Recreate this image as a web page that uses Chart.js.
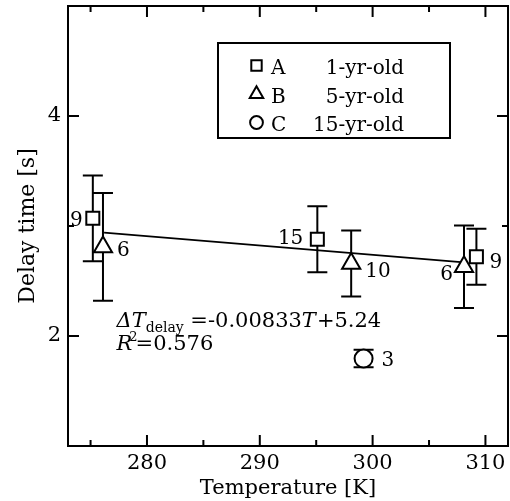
<!DOCTYPE html>
<html>
<head>
<meta charset="utf-8">
<script src="https://cdn.jsdelivr.net/npm/chart.js@4.4.1/dist/chart.umd.min.js"></script>
<style>
  html, body { margin: 0; padding: 0; background: #fff; }
  #wrap { width: 510px; height: 501px; }
</style>
</head>
<body>
<div id="wrap"><canvas id="chart" width="510" height="501"></canvas></div>
<script>
// A: 1-yr-old
const tempA = [275.2, 295.1, 309.2];
const delayA = [3.07, 2.88, 2.72];
const errA = [0.39, 0.30, 0.255];
const countA = [9, 15, 9];

// B: 5-yr-old
const tempB = [276.1, 298.1, 308.1];
const delayB = [2.81, 2.66, 2.63];
const errB = [0.49, 0.30, 0.375];
const countB = [6, 10, 6];

// C: 15-yr-old
const tempC = [299.2];
const delayC = [1.795];
const errC = [0.08];
const countC = [3];

// regression line end points
const fitT = [276.2, 308.1];
const fitDelay = [2.94, 2.67];

const xTicks = [280, 290, 300, 310];
const xMinor = [275, 285, 295, 305];
const yTicks = [2, 4];
const yMinor = [1, 3, 5];

const SERIF = "'DejaVu Serif', serif";

// where the n-labels sit relative to their marker (px), and their alignment
const countPos = {
  A: [[-10, 8, 'right'], [-14, 5, 'right'], [13, 11, 'left']],
  B: [[14, 9, 'left'], [14, 14, 'left'], [-11, 13, 'right']],
  C: [[18, 7, 'left']]
};

const series = [
  { key: 'A', t: tempA, d: delayA, e: errA, n: countA },
  { key: 'B', t: tempB, d: delayB, e: errB, n: countB },
  { key: 'C', t: tempC, d: delayC, e: errC, n: countC }
];

const toPts = (t, d) => t.map((v, i) => ({ x: v, y: d[i] }));

// error bars go under the markers
const errorBars = {
  id: 'errorBars',
  beforeDatasetsDraw(chart) {
    const { ctx, scales: { x, y } } = chart;
    ctx.save();
    ctx.strokeStyle = '#000';
    ctx.lineWidth = 2;
    series.forEach(s => {
      s.t.forEach((t, i) => {
        const px = x.getPixelForValue(t);
        const top = y.getPixelForValue(s.d[i] + s.e[i]);
        const bot = y.getPixelForValue(s.d[i] - s.e[i]);
        ctx.beginPath();
        ctx.moveTo(px, top); ctx.lineTo(px, bot);
        ctx.moveTo(px - 10, top); ctx.lineTo(px + 10, top);
        ctx.moveTo(px - 10, bot); ctx.lineTo(px + 10, bot);
        ctx.stroke();
      });
    });
    ctx.restore();
  }
};

function drawRich(ctx, x, y, parts) {
  parts.forEach(p => {
    ctx.font = p.font;
    ctx.fillText(p.text, x, y + (p.dy || 0));
    x += ctx.measureText(p.text).width + (p.gap || 0);
  });
}

function marker(ctx, style, cx, cy, r) {
  ctx.beginPath();
  if (style === 'rect') {
    ctx.rect(cx - r, cy - r, 2 * r, 2 * r);
  } else if (style === 'triangle') {
    const w = r * Math.sqrt(3) / 2;
    ctx.moveTo(cx, cy - r);
    ctx.lineTo(cx + w, cy + r / 2);
    ctx.lineTo(cx - w, cy + r / 2);
    ctx.closePath();
  } else {
    ctx.arc(cx, cy, r, 0, Math.PI * 2);
  }
  ctx.fillStyle = '#fff';
  ctx.fill();
  ctx.stroke();
}

// frame, inward ticks, n-labels, fit equation, legend box
const decorations = {
  id: 'decorations',
  afterDatasetsDraw(chart) {
    const { ctx, chartArea: a, scales: { x, y } } = chart;
    ctx.save();
    ctx.strokeStyle = '#000';
    ctx.fillStyle = '#000';
    ctx.lineWidth = 2;
    ctx.strokeRect(a.left, a.top, a.right - a.left, a.bottom - a.top);

    ctx.beginPath();
    const xt = (v, len) => {
      const p = x.getPixelForValue(v);
      ctx.moveTo(p, a.bottom); ctx.lineTo(p, a.bottom - len);
      ctx.moveTo(p, a.top); ctx.lineTo(p, a.top + len);
    };
    const yt = (v, len) => {
      const p = y.getPixelForValue(v);
      ctx.moveTo(a.left, p); ctx.lineTo(a.left + len, p);
      ctx.moveTo(a.right, p); ctx.lineTo(a.right - len, p);
    };
    xTicks.forEach(v => xt(v, 11));
    xMinor.forEach(v => xt(v, 6));
    yTicks.forEach(v => yt(v, 11));
    yMinor.forEach(v => yt(v, 6));
    ctx.stroke();

    // sample counts
    ctx.font = '20px ' + SERIF;
    ctx.textBaseline = 'alphabetic';
    series.forEach(s => {
      s.t.forEach((t, i) => {
        const [dx, dy, al] = countPos[s.key][i];
        ctx.textAlign = al;
        ctx.fillText(String(s.n[i]), x.getPixelForValue(t) + dx, y.getPixelForValue(s.d[i]) + dy);
      });
    });

    // regression equation
    ctx.textAlign = 'left';
    const ex = x.getPixelForValue(277.3);
    drawRich(ctx, ex, y.getPixelForValue(2.08), [
      { text: '\u0394', font: 'italic 21px ' + SERIF },
      { text: 'T', font: 'italic 21px ' + SERIF },
      { text: 'delay', font: '14px ' + SERIF, dy: 5 },
      { text: ' =-0.00833', font: '21px ' + SERIF },
      { text: 'T', font: 'italic 21px ' + SERIF, gap: 1 },
      { text: '+5.24', font: '21px ' + SERIF }
    ]);
    drawRich(ctx, ex, y.getPixelForValue(1.87), [
      { text: 'R', font: 'italic 21px ' + SERIF, gap: -3 },
      { text: '2', font: '13px ' + SERIF, dy: -9, gap: -2 },
      { text: '=0.576', font: '21px ' + SERIF }
    ]);

    // legend
    ctx.lineWidth = 2;
    ctx.strokeRect(218, 43, 232, 95);
    const rows = [
      ['rect', 5.2, 'A', '1-yr-old'],
      ['triangle', 7.8, 'B', '5-yr-old'],
      ['circle', 6.4, 'C', '15-yr-old']
    ];
    const base = [74, 102.5, 131];
    rows.forEach((r, i) => {
      ctx.strokeStyle = '#000';
      marker(ctx, r[0], 256.5, base[i] - 8.5, r[1]);
      ctx.fillStyle = '#000';
      ctx.font = '20px ' + SERIF;
      ctx.textAlign = 'left';
      ctx.fillText(r[2], 271, base[i]);
      ctx.textAlign = 'right';
      ctx.fillText(r[3], 404, base[i]);
    });
    ctx.restore();
  }
};

const tickFont = { family: SERIF, size: 21 };

new Chart(document.getElementById('chart'), {
  type: 'scatter',
  data: {
    datasets: [
      {
        label: 'A', data: toPts(tempA, delayA), pointStyle: 'rect', pointRadius: 9.2,
        borderColor: '#000', backgroundColor: '#fff', borderWidth: 2
      },
      {
        label: 'B', data: toPts(tempB, delayB), pointStyle: 'triangle', pointRadius: 10.5,
        borderColor: '#000', backgroundColor: '#fff', borderWidth: 2
      },
      {
        label: 'C', data: toPts(tempC, delayC), pointStyle: 'circle', pointRadius: 9,
        borderColor: '#000', backgroundColor: '#fff', borderWidth: 2
      },
      {
        type: 'line', label: 'fit', data: toPts(fitT, fitDelay), showLine: true,
        borderColor: '#000', borderWidth: 1.8, pointRadius: 0, fill: false
      }
    ]
  },
  options: {
    responsive: false,
    animation: false,
    devicePixelRatio: 1,
    layout: { autoPadding: false, padding: { top: 6, right: 2, left: 0, bottom: 0 } },
    plugins: { legend: { display: false }, tooltip: { enabled: false } },
    scales: {
      x: {
        type: 'linear', min: 273, max: 312,
        grid: { display: false, drawTicks: false },
        border: { display: false },
        afterBuildTicks: s => { s.ticks = xTicks.map(v => ({ value: v })); },
        afterFit: s => { s.height = 55; s.paddingLeft = 0; s.paddingRight = 0; },
        ticks: { font: tickFont, color: '#000', padding: 5, maxRotation: 0, autoSkip: false },
        title: { display: true, text: 'Temperature [K]', font: tickFont, color: '#000', padding: { top: 0, bottom: 0 } }
      },
      y: {
        type: 'linear', min: 1, max: 5,
        grid: { display: false, drawTicks: false },
        border: { display: false },
        afterBuildTicks: s => { s.ticks = yTicks.map(v => ({ value: v })); },
        afterFit: s => { s.width = 68; s.paddingTop = 0; s.paddingBottom = 0; },
        ticks: { font: tickFont, color: '#000', padding: 7 },
        title: { display: true, text: 'Delay time [s]', font: { family: SERIF, size: 22 }, color: '#000', padding: { top: 15, bottom: 0 } }
      }
    }
  },
  plugins: [errorBars, decorations]
});
</script>
</body>
</html>
